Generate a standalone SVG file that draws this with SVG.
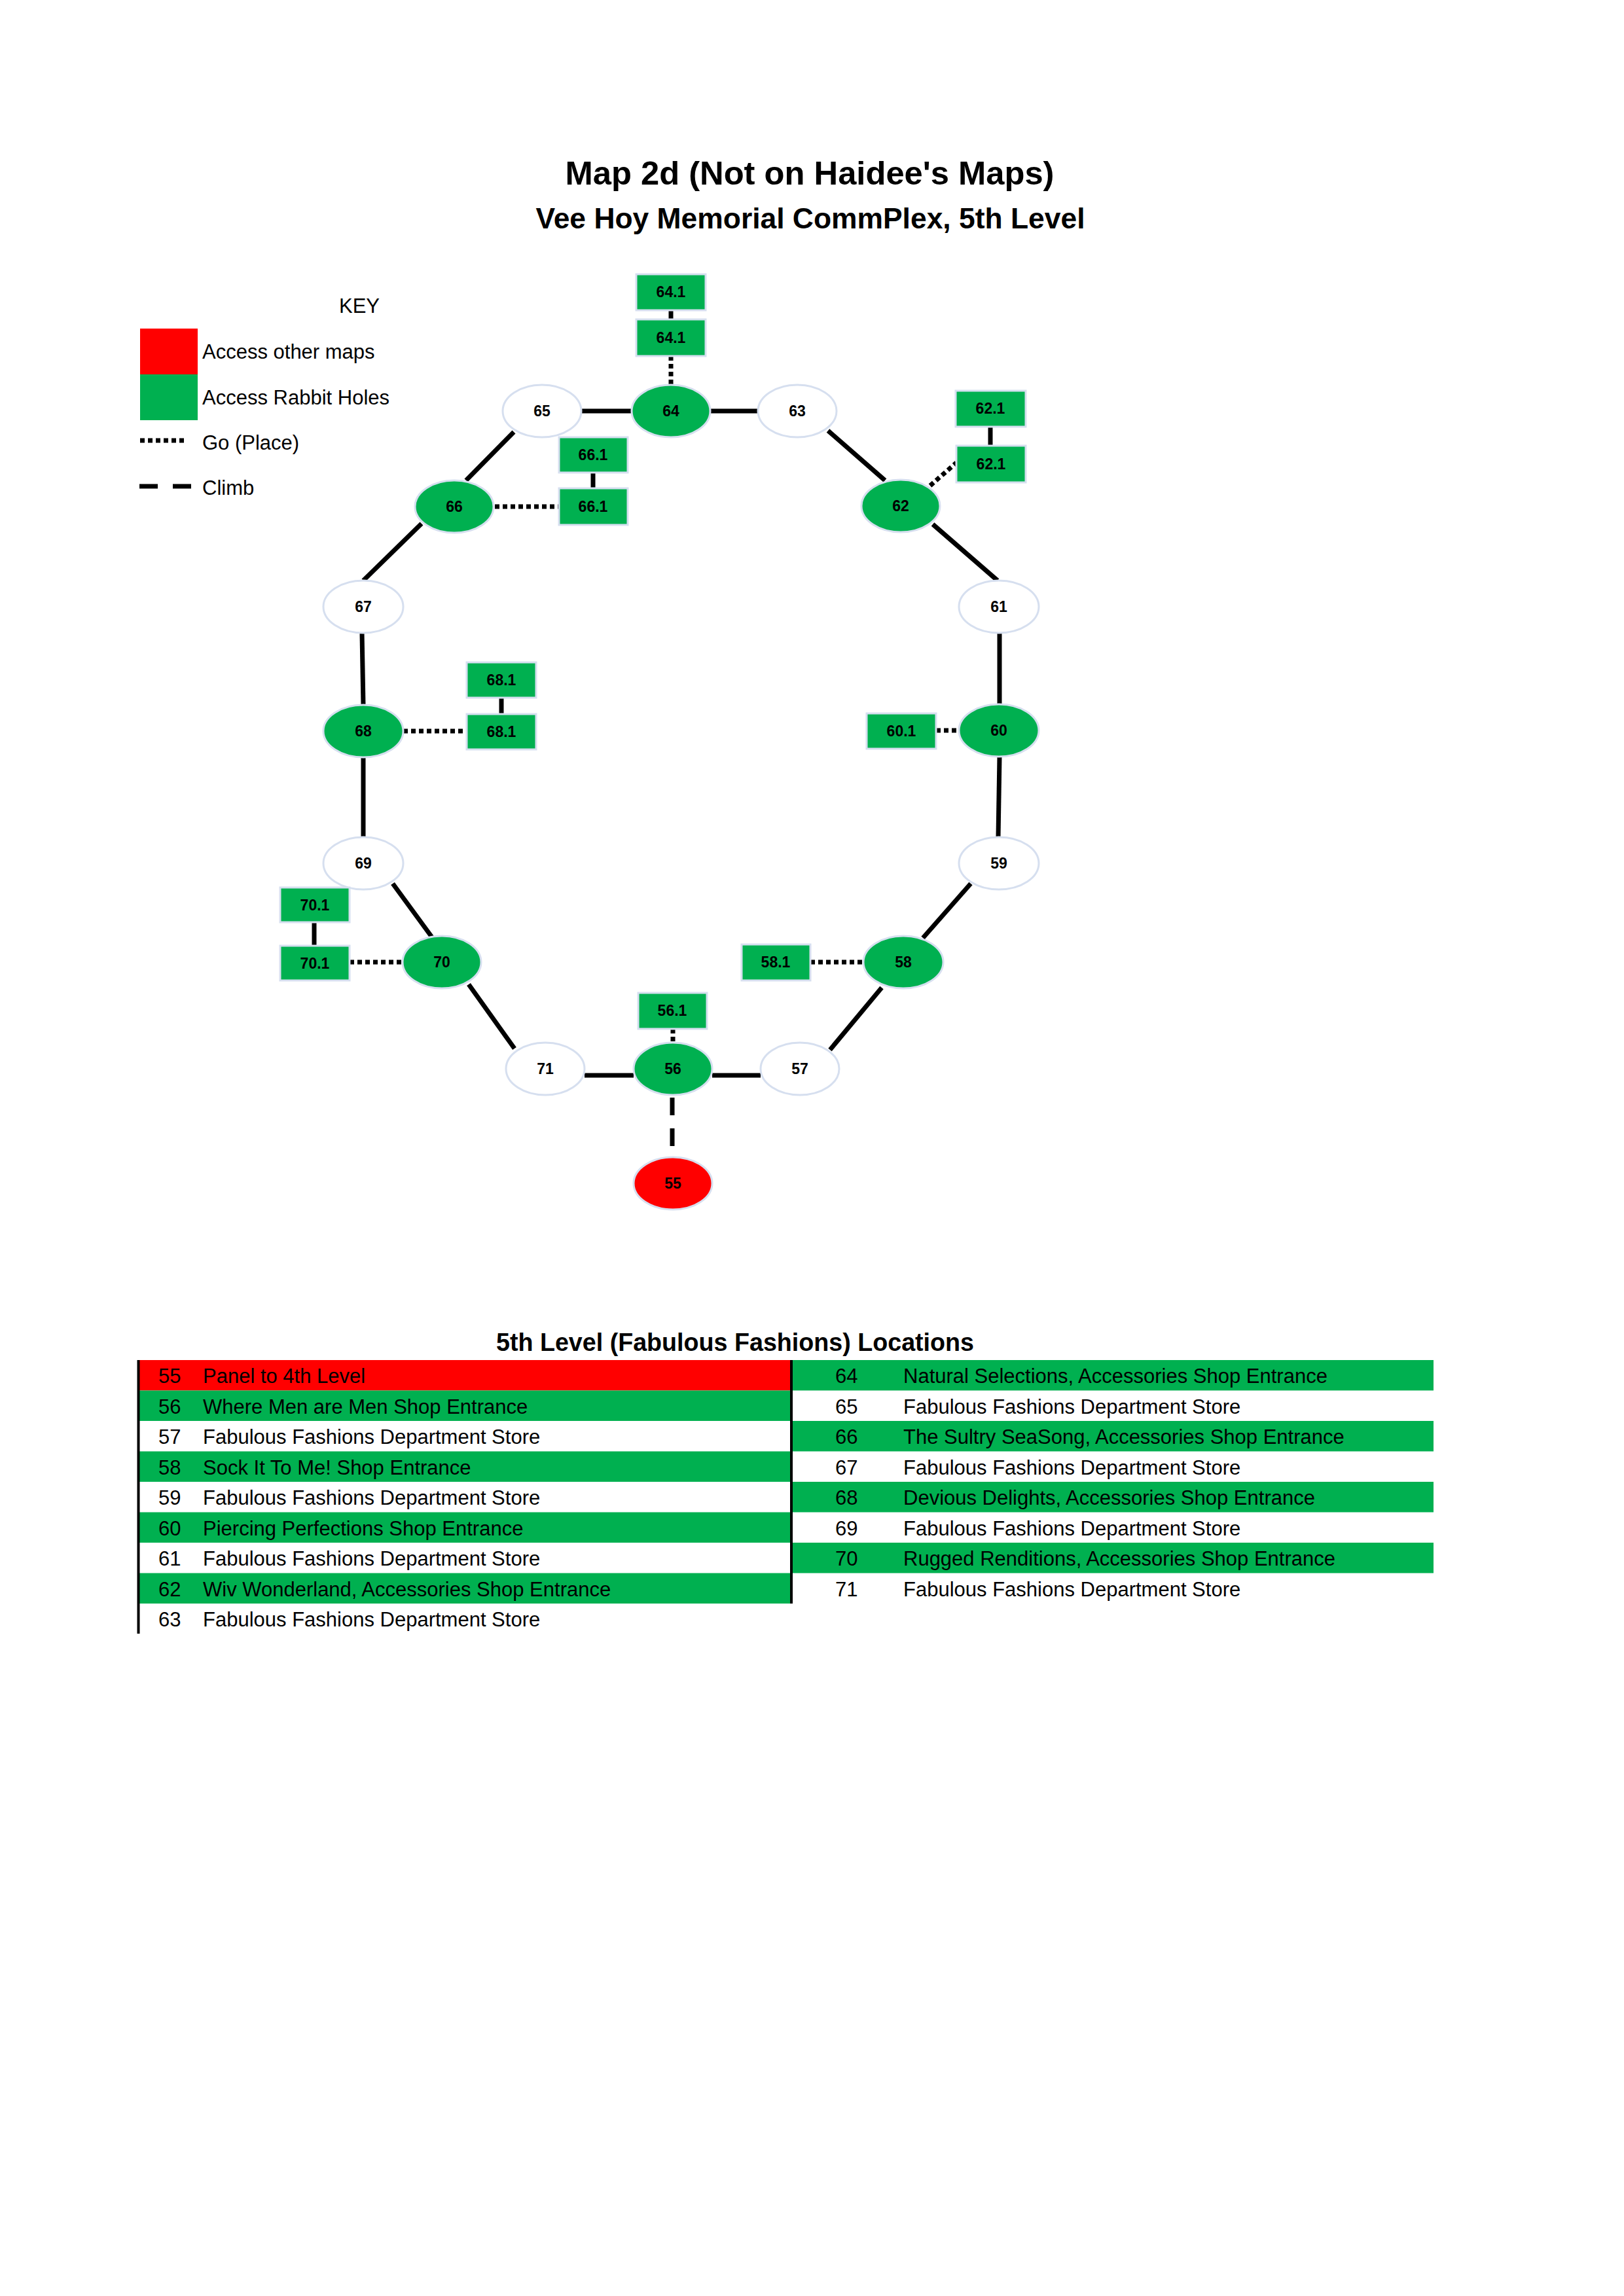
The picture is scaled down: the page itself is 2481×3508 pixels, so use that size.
<svg xmlns="http://www.w3.org/2000/svg" width="2481" height="3508" viewBox="0 0 2481 3508">
<style>
text{font-family:"Liberation Sans",Arial,sans-serif;fill:#000}
.title{font-weight:bold;text-anchor:middle}
.nl{font-weight:bold;font-size:23px;text-anchor:middle}
.lg{font-size:31px}
.rt{font-size:31px}
.node{stroke:#d6dfef;stroke-width:3}
.g{fill:#00b050}
.w{fill:#ffffff}
.r{fill:#ff0000}
.box{fill:#00b050;stroke:#d6dfef;stroke-width:3}
.solid{stroke:#000;stroke-width:7;fill:none}
.dot{stroke:#000;stroke-width:7;fill:none;stroke-dasharray:7 5}
.dash{stroke:#000;stroke-width:7;fill:none;stroke-dasharray:27 20}
</style>
<rect width="2481" height="3508" fill="#fff"/>
<g id="titles">
<text class="title" x="1237" y="282" font-size="50" textLength="747" lengthAdjust="spacingAndGlyphs">Map 2d (Not on Haidee's Maps)</text>
<text class="title" x="1238" y="349" font-size="44" textLength="839" lengthAdjust="spacingAndGlyphs">Vee Hoy Memorial CommPlex, 5th Level</text>
</g>
<g id="key">
<text class="lg" x="549" y="478" text-anchor="middle">KEY</text>
<rect x="214" y="502" width="88" height="70" fill="#ff0000"/>
<rect x="214" y="572" width="88" height="70" fill="#00b050"/>
<text class="lg" x="309" y="548">Access other maps</text>
<text class="lg" x="309" y="618">Access Rabbit Holes</text>
<line class="dot" x1="214" y1="673" x2="286" y2="673"/>
<text class="lg" x="309" y="687">Go (Place)</text>
<line class="solid" x1="213" y1="743" x2="292" y2="743" stroke-dasharray="28 23"/>
<text class="lg" x="309" y="756">Climb</text>
</g>
<g id="connectors">
<line class="solid" x1="888" y1="628" x2="965" y2="628"/>
<line class="solid" x1="1085" y1="628" x2="1158" y2="628"/>
<line class="solid" x1="785" y1="660" x2="712" y2="734"/>
<line class="solid" x1="644" y1="800" x2="555" y2="887"/>
<line class="solid" x1="553" y1="967" x2="555" y2="1077"/>
<line class="solid" x1="555" y1="1157" x2="555" y2="1279"/>
<line class="solid" x1="600" y1="1350" x2="660" y2="1432"/>
<line class="solid" x1="716" y1="1504" x2="786" y2="1602"/>
<line class="solid" x1="893" y1="1643" x2="968" y2="1643"/>
<line class="solid" x1="1088" y1="1643" x2="1162" y2="1643"/>
<line class="solid" x1="1268" y1="1604" x2="1347" y2="1509"/>
<line class="solid" x1="1410" y1="1433" x2="1483" y2="1350"/>
<line class="solid" x1="1525" y1="1279" x2="1527" y2="1156"/>
<line class="solid" x1="1527" y1="1076" x2="1527" y2="967"/>
<line class="solid" x1="1524" y1="887" x2="1425" y2="801"/>
<line class="solid" x1="1352" y1="734" x2="1265" y2="658"/>
<line class="solid" x1="1025" y1="474" x2="1025" y2="488"/>
<line class="solid" x1="906" y1="722" x2="906" y2="746"/>
<line class="solid" x1="1513" y1="652" x2="1513" y2="681"/>
<line class="solid" x1="766" y1="1066" x2="766" y2="1091"/>
<line class="solid" x1="480" y1="1409" x2="480" y2="1445"/>
<line class="dot" x1="1025" y1="544" x2="1025" y2="589"/>
<line class="dot" x1="756" y1="774" x2="854" y2="774"/>
<line class="dot" x1="1421" y1="742" x2="1461" y2="707"/>
<line class="dot" x1="616" y1="1117" x2="713" y2="1117"/>
<line class="dot" x1="1430" y1="1116" x2="1466" y2="1116"/>
<line class="dot" x1="534" y1="1470" x2="615" y2="1470"/>
<line class="dot" x1="1238" y1="1470" x2="1320" y2="1470"/>
<line class="dot" x1="1028" y1="1572" x2="1028" y2="1594"/>
<line class="dash" x1="1027" y1="1677" x2="1027" y2="1754"/>
</g>
<g id="n65"><ellipse class="node w" cx="828" cy="628" rx="60" ry="40"/><text class="nl" x="828" y="636">65</text></g>
<g id="n64"><ellipse class="node g" cx="1025" cy="628" rx="60" ry="40"/><text class="nl" x="1025" y="636">64</text></g>
<g id="n63"><ellipse class="node w" cx="1218" cy="628" rx="60" ry="40"/><text class="nl" x="1218" y="636">63</text></g>
<g id="n62"><ellipse class="node g" cx="1376" cy="773" rx="60" ry="40"/><text class="nl" x="1376" y="781">62</text></g>
<g id="n61"><ellipse class="node w" cx="1526" cy="927" rx="61" ry="40"/><text class="nl" x="1526" y="935">61</text></g>
<g id="n60"><ellipse class="node g" cx="1526" cy="1116" rx="61" ry="40"/><text class="nl" x="1526" y="1124">60</text></g>
<g id="n59"><ellipse class="node w" cx="1526" cy="1319" rx="61" ry="40"/><text class="nl" x="1526" y="1327">59</text></g>
<g id="n58"><ellipse class="node g" cx="1380" cy="1470" rx="61" ry="40"/><text class="nl" x="1380" y="1478">58</text></g>
<g id="n57"><ellipse class="node w" cx="1222" cy="1633" rx="60" ry="40"/><text class="nl" x="1222" y="1641">57</text></g>
<g id="n56"><ellipse class="node g" cx="1028" cy="1633" rx="60" ry="40"/><text class="nl" x="1028" y="1641">56</text></g>
<g id="n55"><ellipse class="node r" cx="1028" cy="1808" rx="60" ry="40"/><text class="nl" x="1028" y="1816">55</text></g>
<g id="n71"><ellipse class="node w" cx="833" cy="1633" rx="60" ry="40"/><text class="nl" x="833" y="1641">71</text></g>
<g id="n70"><ellipse class="node g" cx="675" cy="1470" rx="60" ry="40"/><text class="nl" x="675" y="1478">70</text></g>
<g id="n69"><ellipse class="node w" cx="555" cy="1319" rx="61" ry="40"/><text class="nl" x="555" y="1327">69</text></g>
<g id="n68"><ellipse class="node g" cx="555" cy="1117" rx="61" ry="40"/><text class="nl" x="555" y="1125">68</text></g>
<g id="n67"><ellipse class="node w" cx="555" cy="927" rx="61" ry="40"/><text class="nl" x="555" y="935">67</text></g>
<g id="n66"><ellipse class="node g" cx="694" cy="774" rx="60" ry="40"/><text class="nl" x="694" y="782">66</text></g>
<g id="b64-1a"><rect class="box" x="972" y="419" width="106" height="55"/><text class="nl" x="1025" y="454">64.1</text></g>
<g id="b64-1b"><rect class="box" x="972" y="488" width="106" height="56"/><text class="nl" x="1025" y="524">64.1</text></g>
<g id="b66-1a"><rect class="box" x="854" y="668" width="105" height="54"/><text class="nl" x="906" y="703">66.1</text></g>
<g id="b66-1b"><rect class="box" x="854" y="746" width="105" height="56"/><text class="nl" x="906" y="782">66.1</text></g>
<g id="b62-1a"><rect class="box" x="1460" y="597" width="107" height="55"/><text class="nl" x="1513" y="632">62.1</text></g>
<g id="b62-1b"><rect class="box" x="1461" y="681" width="106" height="56"/><text class="nl" x="1514" y="717">62.1</text></g>
<g id="b68-1a"><rect class="box" x="713" y="1012" width="106" height="54"/><text class="nl" x="766" y="1047">68.1</text></g>
<g id="b68-1b"><rect class="box" x="713" y="1091" width="106" height="54"/><text class="nl" x="766" y="1126">68.1</text></g>
<g id="b60-1"><rect class="box" x="1324" y="1090" width="106" height="54"/><text class="nl" x="1377" y="1125">60.1</text></g>
<g id="b70-1a"><rect class="box" x="428" y="1356" width="106" height="53"/><text class="nl" x="481" y="1391">70.1</text></g>
<g id="b70-1b"><rect class="box" x="428" y="1445" width="106" height="53"/><text class="nl" x="481" y="1480">70.1</text></g>
<g id="b58-1"><rect class="box" x="1133" y="1443" width="105" height="55"/><text class="nl" x="1185" y="1478">58.1</text></g>
<g id="b56-1"><rect class="box" x="975" y="1517" width="105" height="55"/><text class="nl" x="1027" y="1552">56.1</text></g>
<g id="table">
<text class="title" x="1123" y="2064" font-size="38" textLength="730" lengthAdjust="spacingAndGlyphs">5th Level (Fabulous Fashions) Locations</text>
<rect x="213" y="2078" width="996" height="46.5" fill="#ff0000"/>
<rect x="213" y="2124.5" width="996" height="46.5" fill="#00b050"/>
<rect x="213" y="2217.5" width="996" height="46.5" fill="#00b050"/>
<rect x="213" y="2310.5" width="996" height="46.5" fill="#00b050"/>
<rect x="213" y="2403.5" width="996" height="46.5" fill="#00b050"/>
<rect x="1211" y="2078" width="979" height="46.5" fill="#00b050"/>
<rect x="1211" y="2171" width="979" height="46.5" fill="#00b050"/>
<rect x="1211" y="2264" width="979" height="46.5" fill="#00b050"/>
<rect x="1211" y="2357" width="979" height="46.5" fill="#00b050"/>
<line x1="211.5" y1="2078" x2="211.5" y2="2496" stroke="#000" stroke-width="4"/>
<line x1="1209" y1="2078" x2="1209" y2="2450" stroke="#000" stroke-width="4"/>
<g class="rt">
<text class="rt" x="242" y="2113">55</text><text class="rt" x="310" y="2113">Panel to 4th Level</text>
<text class="rt" x="242" y="2159.5">56</text><text class="rt" x="310" y="2159.5">Where Men are Men Shop Entrance</text>
<text class="rt" x="242" y="2206">57</text><text class="rt" x="310" y="2206">Fabulous Fashions Department Store</text>
<text class="rt" x="242" y="2252.5">58</text><text class="rt" x="310" y="2252.5">Sock It To Me! Shop Entrance</text>
<text class="rt" x="242" y="2299">59</text><text class="rt" x="310" y="2299">Fabulous Fashions Department Store</text>
<text class="rt" x="242" y="2345.5">60</text><text class="rt" x="310" y="2345.5">Piercing Perfections Shop Entrance</text>
<text class="rt" x="242" y="2392">61</text><text class="rt" x="310" y="2392">Fabulous Fashions Department Store</text>
<text class="rt" x="242" y="2438.5">62</text><text class="rt" x="310" y="2438.5">Wiv Wonderland, Accessories Shop Entrance</text>
<text class="rt" x="242" y="2485">63</text><text class="rt" x="310" y="2485">Fabulous Fashions Department Store</text>
<text class="rt" x="1276" y="2113">64</text><text class="rt" x="1380" y="2113">Natural Selections, Accessories Shop Entrance</text>
<text class="rt" x="1276" y="2159.5">65</text><text class="rt" x="1380" y="2159.5">Fabulous Fashions Department Store</text>
<text class="rt" x="1276" y="2206">66</text><text class="rt" x="1380" y="2206">The Sultry SeaSong, Accessories Shop Entrance</text>
<text class="rt" x="1276" y="2252.5">67</text><text class="rt" x="1380" y="2252.5">Fabulous Fashions Department Store</text>
<text class="rt" x="1276" y="2299">68</text><text class="rt" x="1380" y="2299">Devious Delights, Accessories Shop Entrance</text>
<text class="rt" x="1276" y="2345.5">69</text><text class="rt" x="1380" y="2345.5">Fabulous Fashions Department Store</text>
<text class="rt" x="1276" y="2392">70</text><text class="rt" x="1380" y="2392">Rugged Renditions, Accessories Shop Entrance</text>
<text class="rt" x="1276" y="2438.5">71</text><text class="rt" x="1380" y="2438.5">Fabulous Fashions Department Store</text>
</g>
</g>
</svg>
